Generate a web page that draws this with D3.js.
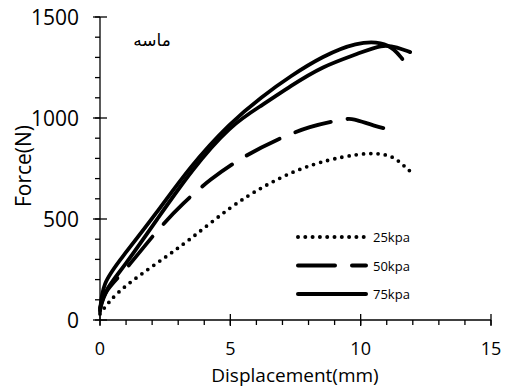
<!DOCTYPE html>
<html>
<head>
<meta charset="utf-8">
<script src="https://cdn.jsdelivr.net/npm/d3@7"></script>
<style>
body{margin:0;background:#fff}
text{font-family:"Open Sans","Noto Sans",sans-serif;fill:#000}
</style>
</head>
<body>
<svg></svg>
<script>
// values
var disp75a = [0, 0.1, 0.77, 2.18, 3.45, 5.0, 6.2, 7.3, 8.55, 9.85, 10.85, 11.3, 11.6]
var force75a = [40, 184, 298, 531, 760, 978, 1105, 1207, 1307, 1376, 1376, 1340, 1292]
var disp75b = [0, 0.2, 0.9, 2.2, 3.5, 5.0, 6.25, 7.3, 8.55, 9.85, 10.85, 11.4, 11.9]
var force75b = [60, 150, 260, 500, 740, 965, 1065, 1158, 1257, 1316, 1366, 1350, 1326]
var disp50 = [0, 0.2, 0.9, 2.2, 3.2, 4.2, 5.5, 6.8, 8.05, 9.3, 9.7, 10.5, 11.4]
var force50 = [50, 150, 233, 447, 580, 695, 810, 894, 960, 993, 1000, 960, 935]
var disp25 = [0, 0.3, 0.9, 2.2, 3.45, 5.0, 6.25, 7.55, 8.8, 9.85, 10.6, 11.25, 11.6, 11.9]
var force25 = [30, 84, 165, 283, 397, 561, 661, 745, 795, 820, 828, 810, 770, 736]

var legendLabels = ["25kpa", "50kpa", "75kpa"]
var legendDash = ["0,7.3", "37,17", null]
var xTicks = [0, 5, 10, 15]
var yTicks = [0, 500, 1000, 1500]

var screen = {width:509, height:387}
var svg = d3.select("svg").attr("width", screen.width).attr("height", screen.height)

var xScale = d3.scaleLinear().domain([0, 15]).range([100, 491])
var yScale = d3.scaleLinear().domain([0, 1500]).range([320, 17])

// axes
var xAxis = svg.append("g").attr("transform", "translate(0," + yScale(0) + ")")
xAxis.append("line").attr("x1", xScale(0)).attr("x2", xScale(15)).attr("stroke", "#000").attr("stroke-width", 1.3)
xAxis.selectAll(".minor").data(d3.range(0, 15.01, 1)).enter().append("line")
    .attr("x1", function(d){return xScale(d)}).attr("x2", function(d){return xScale(d)})
    .attr("y1", 0).attr("y2", 5).attr("stroke", "#000").attr("stroke-width", 1.3)
xAxis.selectAll(".major").data(xTicks).enter().append("line")
    .attr("x1", function(d){return xScale(d)}).attr("x2", function(d){return xScale(d)})
    .attr("y1", -6).attr("y2", 6).attr("stroke", "#000").attr("stroke-width", 1.3)
xAxis.selectAll("text").data(xTicks).enter().append("text")
    .attr("x", function(d){return xScale(d)}).attr("y", 35)
    .attr("text-anchor", "middle").attr("font-size", 18).text(function(d){return d})

var yAxis = svg.append("g").attr("transform", "translate(" + xScale(0) + ",0)")
yAxis.append("line").attr("y1", yScale(0)).attr("y2", yScale(1500)).attr("stroke", "#000").attr("stroke-width", 1.3)
yAxis.selectAll(".minor").data(d3.range(0, 1500.1, 100)).enter().append("line")
    .attr("y1", function(d){return yScale(d)}).attr("y2", function(d){return yScale(d)})
    .attr("x1", -5).attr("x2", 0).attr("stroke", "#000").attr("stroke-width", 1.3)
yAxis.selectAll(".major").data(yTicks).enter().append("line")
    .attr("y1", function(d){return yScale(d)}).attr("y2", function(d){return yScale(d)})
    .attr("x1", -7).attr("x2", 7).attr("stroke", "#000").attr("stroke-width", 1.3)
yAxis.selectAll("text").data(yTicks).enter().append("text")
    .attr("x", -21).attr("y", function(d){return yScale(d) + 7.5})
    .attr("text-anchor", "end").attr("font-size", 21).text(function(d){return d})

svg.append("text").attr("x", 295).attr("y", 381.5).attr("text-anchor", "middle")
    .attr("font-size", 19).text("Displacement(mm)")
svg.append("text").attr("transform", "translate(31,166) rotate(-90)").attr("text-anchor", "middle")
    .attr("font-size", 21).text("Force(N)")
svg.append("text").attr("x", 152).attr("y", 46).attr("text-anchor", "middle")
    .style("font-family", "'DejaVu Sans',sans-serif")
    .attr("font-size", 17).text("ماسه")

// curves
var line = d3.line()
    .x(function(d){return xScale(d.x)})
    .y(function(d){return yScale(d.y)})
    .curve(d3.curveBasis)

var pairs = function(xs, ys){
    return xs.map(function(x, i){return {x:x, y:ys[i]}})
}

var series = [
    {pts:pairs(disp25, force25), dash:legendDash[0]},
    {pts:pairs(disp50, force50), dash:legendDash[1]},
    {pts:pairs(disp75a, force75a), dash:legendDash[2]},
    {pts:pairs(disp75b, force75b), dash:legendDash[2]}
]

svg.selectAll(".curve").data(series).enter().append("path")
    .attr("class", "curve")
    .attr("d", function(s){return line(s.pts)})
    .attr("fill", "none").attr("stroke", "#000")
    .attr("stroke-width", 3.8).attr("stroke-linecap", "round")
    .attr("stroke-dasharray", function(s){return s.dash})

// legend
var leg = svg.selectAll(".leg").data(legendLabels).enter().append("g")
    .attr("transform", function(d, i){return "translate(0," + (237 + i * 28.5) + ")"})
leg.append("line").attr("x1", 298).attr("x2", 366).attr("y1", 0).attr("y2", 0)
    .attr("stroke", "#000").attr("stroke-width", 4).attr("stroke-linecap", "round")
    .attr("stroke-dasharray", function(d, i){return legendDash[i]})
leg.append("text").attr("x", 373).attr("y", 5).attr("font-size", 13).text(function(d){return d})
</script>
</body>
</html>
